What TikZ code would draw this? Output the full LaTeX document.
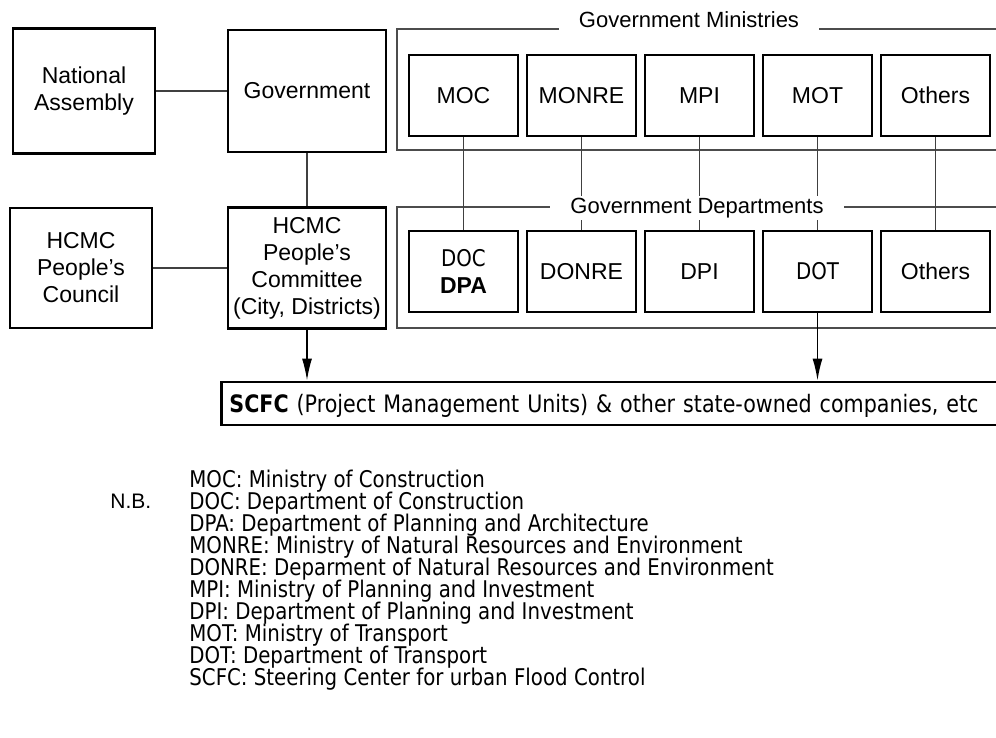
\documentclass[tikz,border=0pt]{standalone}
\usepackage{fontspec}
\setmainfont{Liberation Sans}
\newfontfamily\notefont[FakeStretch=0.86]{DejaVu Sans}
\usetikzlibrary{arrows.meta}

\tikzset{
  unit/.style={draw, line width=1.4pt, minimum width=54.5pt, minimum height=40.5pt,
    align=center, inner sep=1pt, font=\fontsize{11.5}{13.5}\selectfont},
  frame/.style={draw=black!70, line width=0.9pt},
  link/.style={draw=black!75, line width=0.8pt},
  down/.style={link, draw=black, -{Latex[length=11pt,width=5pt]}},
  note/.style={inner sep=0pt, font=\notefont\fontsize{11.5}{13}\selectfont},
}

\begin{document}
\begin{tikzpicture}[x=0.5pt, y=-0.5pt]
   \clip (0,0) rectangle (996,738);
   \fill[white] (0,0) rectangle (996,738);

   %% frames round ministries and departments (open to the right)
   \draw[frame] (1010,29) -- (397,29) -- (397,150) -- (1010,150);
   \draw[frame] (1010,207) -- (397,207) -- (397,328) -- (1010,328);

   \node[unit, minimum width=71pt, minimum height=62.5pt] (na) at (84,91) {National\\Assembly};
   \node[unit, minimum width=79pt, minimum height=61pt] (gov) at (307,91) {Government};
   \node[unit, minimum width=71pt, minimum height=60pt] (hpcl) at (81,268) {HCMC\\People's\\Council};
   \node[unit, minimum width=79pt, minimum height=60.5pt] (hpc) at (307,268) {HCMC\\People's\\Committee\\(City, Districts)};
   \draw[link] (na) -- (gov);
   \draw[link] (gov) -- (hpc);
   \draw[link] (hpcl) -- (hpc);

 %% ministries on top, their departments below
 \foreach \Tag/\Min/\Dep [count=\i] in {oc/MOC/{\notefont DOC\\\textbf{DPA}}, onre/MONRE/DONRE, pi/MPI/DPI, ot/MOT/{\notefont DOT}, oth/Others/Others} {
        \node[unit] (m\Tag) at ({463.5+118*(\i-1)},95.5) {\Min};
        \node[unit] (d\Tag) at ({463.5+118*(\i-1)},271.5) {\Dep};
        \draw[link] (m\Tag) -- (d\Tag);
 }
   \node[fill=white, inner xsep=10pt, inner ysep=2pt, anchor=base, font=\fontsize{11}{13}\selectfont] (gm) at (689,28) {Government Ministries};
   \node[fill=white, inner xsep=10pt, inner ysep=1pt, font=\fontsize{11}{13}\selectfont] (gd) at (697,208) {Government Departments};

   \node[draw, line width=1.4pt, anchor=west, text height=13pt, text depth=4.5pt, inner ysep=2pt,
         text width=392pt, align=left, inner xsep=4pt, font=\notefont\fontsize{12}{14}\selectfont] (scfc) at (220,403.5)
        {\textbf{SCFC} (Project Management Units) \& other state-owned companies, etc};
   \draw[down] (hpc.south) -- (hpc.south |- scfc.north);
   \draw[down] (dot.south) -- (dot.south |- scfc.north);

   %% abbreviations
   \node[inner sep=0pt, anchor=base west, font=\fontsize{10.5}{12}\selectfont] (nb) at (110,508) {N.B.};
 \foreach \Abbr/\Meaning [count=\i] in {MOC/Ministry of Construction, DOC/Department of Construction,
        DPA/Department of Planning and Architecture, MONRE/Ministry of Natural Resources and Environment,
        DONRE/Deparment of Natural Resources and Environment, MPI/Ministry of Planning and Investment,
        DPI/Department of Planning and Investment, MOT/Ministry of Transport,
        DOT/Department of Transport, SCFC/Steering Center for urban Flood Control}
        \node[note, anchor=base west] (key\i) at (189,{487+22*(\i-1)}) {\Abbr: \Meaning};
\end{tikzpicture}
\end{document}
